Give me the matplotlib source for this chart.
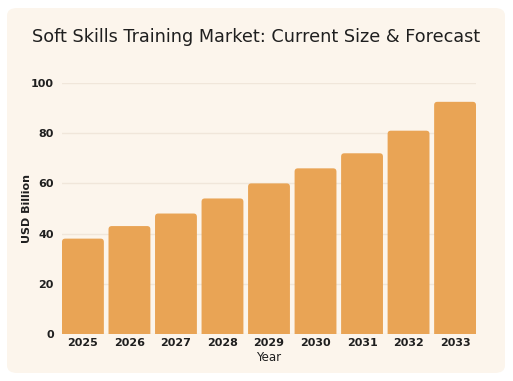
import matplotlib
matplotlib.use("Agg")
import matplotlib.pyplot as plt
from matplotlib.patches import FancyBboxPatch

# data
years = ["2025", "2026", "2027", "2028", "2029", "2030", "2031", "2032", "2033"]
market_size = [38, 43, 48, 54, 60, 66, 72, 81, 92.5]
y_ticks = [0, 20, 40, 60, 80, 100]

bar_color = "#E9A455"
card_color = "#FCF5EC"
grid_color = "#F0E6DA"
text_color = "#1F1F1F"

plt.rcParams['font.family'] = ['DejaVu Sans']

fig = plt.figure(figsize=(5.13, 3.81), dpi=100)
fig.patch.set_facecolor("white")

# background card
card = FancyBboxPatch((7 / 513, 1 - 373 / 381), 498 / 513, 365 / 381,
                      boxstyle="round,pad=0,rounding_size=0.02",
                      transform=fig.transFigure, facecolor=card_color,
                      edgecolor="none", zorder=-5)
fig.patches.append(card)

ax = fig.add_axes([62 / 513, 1 - 334 / 381, (476 - 62) / 513, (334 - 83) / 381])
ax.set_facecolor("none")
ax.set_zorder(2)

x = list(range(len(years)))
bars = ax.bar(x, market_size, width=0.9, color=bar_color, zorder=2)

ax.set_xlim(-0.45, len(years) - 0.55)
ax.set_ylim(0, 100)
# rounded tops: replace plain rectangles
for b in bars:
    bx, by = b.get_x(), b.get_y()
    bw, bh = b.get_width(), b.get_height()
    b.set_visible(False)
    p = FancyBboxPatch((bx, by - 3), bw, bh + 3,
                       boxstyle="round,pad=0,rounding_size=0.07",
                       mutation_aspect=18.5, facecolor=bar_color,
                       edgecolor="none", zorder=2)
    ax.add_patch(p)

ax.set_yticks(y_ticks)
ax.set_xticks(x)
ax.set_xticklabels(years)
ax.yaxis.grid(True, color=grid_color, linewidth=1)
ax.set_axisbelow(True)
for s in ax.spines.values():
    s.set_visible(False)
ax.tick_params(axis="both", length=0, labelsize=8, colors=text_color)
ax.tick_params(axis="x", pad=3)
ax.tick_params(axis="y", pad=6)
for lab in ax.get_xticklabels() + ax.get_yticklabels():
    lab.set_fontweight("bold")

ax.set_xlabel("Year", fontsize=8.5, color=text_color, labelpad=2)
ax.set_ylabel("USD Billion", fontsize=8, fontweight="bold", color=text_color, labelpad=-1)

fig.text(0.5, 1 - 37 / 381, "Soft Skills Training Market: Current Size & Forecast",
         ha="center", va="center", fontsize=12.7, color=text_color)

fig.savefig("out.png", dpi=100, facecolor=fig.get_facecolor())
